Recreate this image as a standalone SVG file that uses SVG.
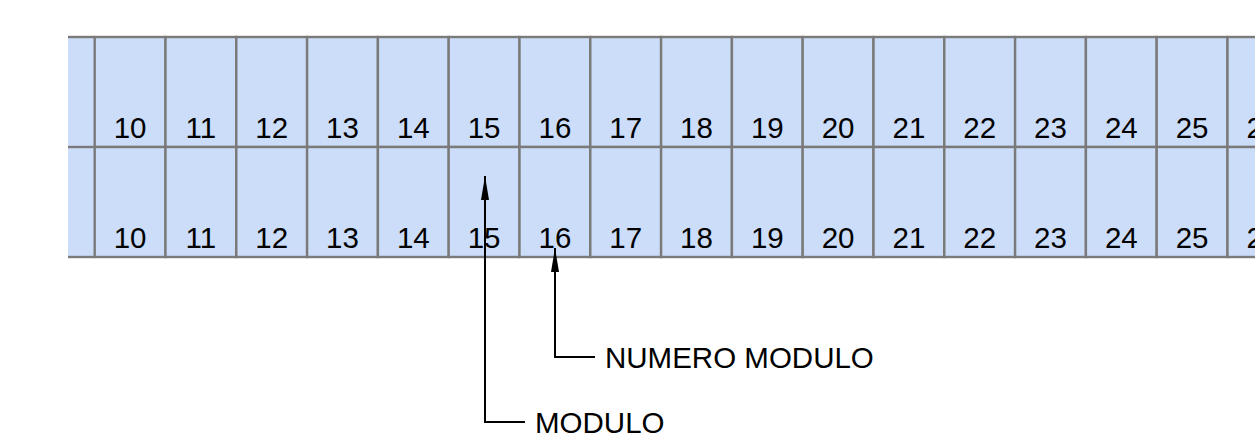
<svg xmlns="http://www.w3.org/2000/svg" width="1255" height="437" viewBox="0 0 1255 437">
<style>
.cell{fill:#ccddfa;stroke:#7a7a7a;stroke-width:2.4}
.num{font-family:"Liberation Sans",Arial,sans-serif;font-size:29.5px;fill:#000;text-anchor:middle}
.lbl{font-family:"Liberation Sans",Arial,sans-serif;font-size:29.5px;fill:#000}
.conn{fill:none;stroke:#000;stroke-width:2}
</style>
<defs>
<marker id="arr" viewBox="0 0 24 8" refX="24" refY="4" markerWidth="24" markerHeight="9" markerUnits="userSpaceOnUse" orient="auto">
<path d="M0,0 L24,4 L0,8 Z" fill="#000"/>
</marker>
</defs>
<rect x="68" y="37" width="1187" height="220" fill="#ccddfa"/>
<g id="row1">
<g id="r1c10"><rect class="cell" x="94.7" y="37" width="70.8" height="110"/><text class="num" x="130.1" y="137.5">10</text></g>
<g id="r1c11"><rect class="cell" x="165.5" y="37" width="70.8" height="110"/><text class="num" x="200.9" y="137.5">11</text></g>
<g id="r1c12"><rect class="cell" x="236.3" y="37" width="70.8" height="110"/><text class="num" x="271.7" y="137.5">12</text></g>
<g id="r1c13"><rect class="cell" x="307.1" y="37" width="70.8" height="110"/><text class="num" x="342.5" y="137.5">13</text></g>
<g id="r1c14"><rect class="cell" x="377.9" y="37" width="70.8" height="110"/><text class="num" x="413.3" y="137.5">14</text></g>
<g id="r1c15"><rect class="cell" x="448.7" y="37" width="70.8" height="110"/><text class="num" x="484.1" y="137.5">15</text></g>
<g id="r1c16"><rect class="cell" x="519.5" y="37" width="70.8" height="110"/><text class="num" x="554.9" y="137.5">16</text></g>
<g id="r1c17"><rect class="cell" x="590.3" y="37" width="70.8" height="110"/><text class="num" x="625.7" y="137.5">17</text></g>
<g id="r1c18"><rect class="cell" x="661.1" y="37" width="70.8" height="110"/><text class="num" x="696.5" y="137.5">18</text></g>
<g id="r1c19"><rect class="cell" x="731.9" y="37" width="70.8" height="110"/><text class="num" x="767.3" y="137.5">19</text></g>
<g id="r1c20"><rect class="cell" x="802.7" y="37" width="70.8" height="110"/><text class="num" x="838.1" y="137.5">20</text></g>
<g id="r1c21"><rect class="cell" x="873.5" y="37" width="70.8" height="110"/><text class="num" x="908.9" y="137.5">21</text></g>
<g id="r1c22"><rect class="cell" x="944.3" y="37" width="70.8" height="110"/><text class="num" x="979.7" y="137.5">22</text></g>
<g id="r1c23"><rect class="cell" x="1015.1" y="37" width="70.8" height="110"/><text class="num" x="1050.5" y="137.5">23</text></g>
<g id="r1c24"><rect class="cell" x="1085.9" y="37" width="70.8" height="110"/><text class="num" x="1121.3" y="137.5">24</text></g>
<g id="r1c25"><rect class="cell" x="1156.7" y="37" width="70.8" height="110"/><text class="num" x="1192.1" y="137.5">25</text></g>
<g id="r1c26"><rect class="cell" x="1227.5" y="37" width="70.8" height="110"/><text class="num" x="1262.9" y="137.5">26</text></g>
</g>
<g id="row2">
<g id="r2c10"><rect class="cell" x="94.7" y="147" width="70.8" height="110"/><text class="num" x="130.1" y="247.5">10</text></g>
<g id="r2c11"><rect class="cell" x="165.5" y="147" width="70.8" height="110"/><text class="num" x="200.9" y="247.5">11</text></g>
<g id="r2c12"><rect class="cell" x="236.3" y="147" width="70.8" height="110"/><text class="num" x="271.7" y="247.5">12</text></g>
<g id="r2c13"><rect class="cell" x="307.1" y="147" width="70.8" height="110"/><text class="num" x="342.5" y="247.5">13</text></g>
<g id="r2c14"><rect class="cell" x="377.9" y="147" width="70.8" height="110"/><text class="num" x="413.3" y="247.5">14</text></g>
<g id="r2c15"><rect class="cell" x="448.7" y="147" width="70.8" height="110"/><text class="num" x="484.1" y="247.5">15</text></g>
<g id="r2c16"><rect class="cell" x="519.5" y="147" width="70.8" height="110"/><text class="num" x="554.9" y="247.5">16</text></g>
<g id="r2c17"><rect class="cell" x="590.3" y="147" width="70.8" height="110"/><text class="num" x="625.7" y="247.5">17</text></g>
<g id="r2c18"><rect class="cell" x="661.1" y="147" width="70.8" height="110"/><text class="num" x="696.5" y="247.5">18</text></g>
<g id="r2c19"><rect class="cell" x="731.9" y="147" width="70.8" height="110"/><text class="num" x="767.3" y="247.5">19</text></g>
<g id="r2c20"><rect class="cell" x="802.7" y="147" width="70.8" height="110"/><text class="num" x="838.1" y="247.5">20</text></g>
<g id="r2c21"><rect class="cell" x="873.5" y="147" width="70.8" height="110"/><text class="num" x="908.9" y="247.5">21</text></g>
<g id="r2c22"><rect class="cell" x="944.3" y="147" width="70.8" height="110"/><text class="num" x="979.7" y="247.5">22</text></g>
<g id="r2c23"><rect class="cell" x="1015.1" y="147" width="70.8" height="110"/><text class="num" x="1050.5" y="247.5">23</text></g>
<g id="r2c24"><rect class="cell" x="1085.9" y="147" width="70.8" height="110"/><text class="num" x="1121.3" y="247.5">24</text></g>
<g id="r2c25"><rect class="cell" x="1156.7" y="147" width="70.8" height="110"/><text class="num" x="1192.1" y="247.5">25</text></g>
<g id="r2c26"><rect class="cell" x="1227.5" y="147" width="70.8" height="110"/><text class="num" x="1262.9" y="247.5">26</text></g>
</g>
<g id="edges">
<line x1="68" y1="37" x2="94.7" y2="37" stroke="#7a7a7a" stroke-width="2.4"/>
<line x1="68" y1="147" x2="94.7" y2="147" stroke="#7a7a7a" stroke-width="2.4"/>
<line x1="68" y1="257" x2="94.7" y2="257" stroke="#7a7a7a" stroke-width="2.4"/>
</g>
<g id="connectors">
<polyline class="conn" points="525,422 485,422 485,176" marker-end="url(#arr)"/>
<polyline class="conn" points="595,357 555,357 555,248" marker-end="url(#arr)"/>
</g>
<g id="label-modulo"><text class="lbl" x="535" y="432.5">MODULO</text></g>
<g id="label-numero"><text class="lbl" x="605" y="367.5">NUMERO MODULO</text></g>
</svg>
